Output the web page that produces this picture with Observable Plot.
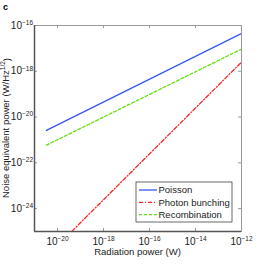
<!DOCTYPE html>
<html><head><meta charset="utf-8">
<script src="https://cdn.jsdelivr.net/npm/d3@7"></script>
<script src="https://cdn.jsdelivr.net/npm/@observablehq/plot@0.6"></script>
<style>
body{margin:0;background:#fff;}
#c{position:relative;width:266px;height:267px;font-family:"Liberation Sans",Arial,sans-serif;}
#lab{position:absolute;left:3px;top:2px;font-weight:bold;font-size:9px;}
</style></head>
<body><div id="c"><div id="lab">c</div></div>
<script>
const power = [3.3e-21, 1e-12];
const poisson = [2.6e-21, 4.5e-17];
const bunching = [8e-27, 2.5e-18];
const recombination = [5.9e-22, 9.3e-18];
const seriesNames = ["Poisson", "Photon bunching", "Recombination"];
const seriesColors = ["#3355ff", "#ff2222", "#66dd11"];
const seriesDash = [null, "4,2,1,2", "3,2"];
const xTicks = [1e-20, 1e-18, 1e-16, 1e-14, 1e-12];
const yTicks = [1e-24, 1e-22, 1e-20, 1e-18, 1e-16];

const rows = [];
[poisson, bunching, recombination].forEach((vals, i) => {
  power.forEach((p, j) => rows.push({series: seriesNames[i], x: p, y: vals[j]}));
});

const W = 266, H = 267, mL = 34, mR = 25, mT = 25, mB = 36;
const fh = H - mT - mB, fw = W - mL - mR;
const fmt = d => "10^" + Math.round(Math.log10(d));

const marks = [
  Plot.frame({stroke: "#999"}),
  Plot.tickX(xTicks, {x: d => d, stroke: "#999", insetTop: fh - 3}),
  Plot.tickX(xTicks, {x: d => d, stroke: "#999", insetBottom: fh - 3}),
  Plot.tickY(yTicks, {y: d => d, stroke: "#999", insetRight: fw - 3}),
  Plot.tickY(yTicks, {y: d => d, stroke: "#999", insetLeft: fw - 3}),
  Plot.axisX(xTicks, {tickSize: 0, tickPadding: 6, tickFormat: fmt, fontSize: 10, label: null}),
  Plot.axisY(yTicks, {tickSize: 0, tickPadding: 1.5, tickFormat: fmt, fontSize: 10, label: null}),
  Plot.ruleX([1e-21], {stroke: "#555", strokeWidth: 1.5}),
  Plot.ruleY([1e-25], {stroke: "#555", strokeWidth: 1.5}),
];
seriesNames.forEach((s, i) => {
  marks.push(Plot.line(rows.filter(r => r.series === s), {
    x: "x", y: "y", stroke: seriesColors[i], strokeWidth: 1.3,
    strokeDasharray: seriesDash[i], clip: true
  }));
});

const plot = Plot.plot({
  width: W, height: H,
  marginLeft: mL, marginRight: mR, marginTop: mT, marginBottom: mB,
  style: {fontFamily: "Liberation Sans, Arial, sans-serif", color: "#222", background: "#fff"},
  x: {type: "log", domain: [1e-21, 1e-12]},
  y: {type: "log", domain: [1e-25, 1e-16]},
  marks
});

const svg = d3.select(plot);
// superscript tick labels
svg.selectAll("g[aria-label$='tick label'] text").each(function() {
  const t = d3.select(this);
  const s = t.text();
  if (!s.startsWith("10^")) return;
  const e = s.slice(3).replace("-", "\u2212");
  t.text(null);
  t.append("tspan").text("10");
  t.append("tspan").attr("dy", "-0.6em").attr("font-size", "6.5px").text(e);
});

// axis titles
svg.append("text").attr("x", mL + fw / 2).attr("y", 255).attr("text-anchor", "middle")
  .attr("font-size", 9.5).attr("fill", "#222").text("Radiation power (W)");
const yl = svg.append("text").attr("transform", `translate(8.5,${mT + fh / 2}) rotate(-90)`)
  .attr("text-anchor", "middle").attr("font-size", 9.5).attr("fill", "#222");
yl.append("tspan").text("Noise equivalent power (W/Hz");
yl.append("tspan").attr("dy", "-0.5em").attr("font-size", "6.5px").text("1/2");
yl.append("tspan").attr("dy", "0.5em").text(")");

// legend
const lg = svg.append("g").attr("transform", "translate(136,182)").attr("text-anchor", "start");
lg.append("rect").attr("width", 96).attr("height", 40).attr("fill", "#fff").attr("stroke", "#444").attr("stroke-width", 0.8);
seriesNames.forEach((s, i) => {
  const yy = 8 + i * 12.3;
  lg.append("line").attr("x1", 3).attr("x2", 21).attr("y1", yy).attr("y2", yy)
    .attr("stroke", seriesColors[i]).attr("stroke-width", 1.3).attr("stroke-dasharray", seriesDash[i]);
  lg.append("text").attr("x", 22.5).attr("y", yy + 3.4).attr("text-anchor", "start")
    .attr("font-size", 9.5).attr("fill", "#222").text(s);
});

document.getElementById("c").appendChild(plot);
</script></body></html>
